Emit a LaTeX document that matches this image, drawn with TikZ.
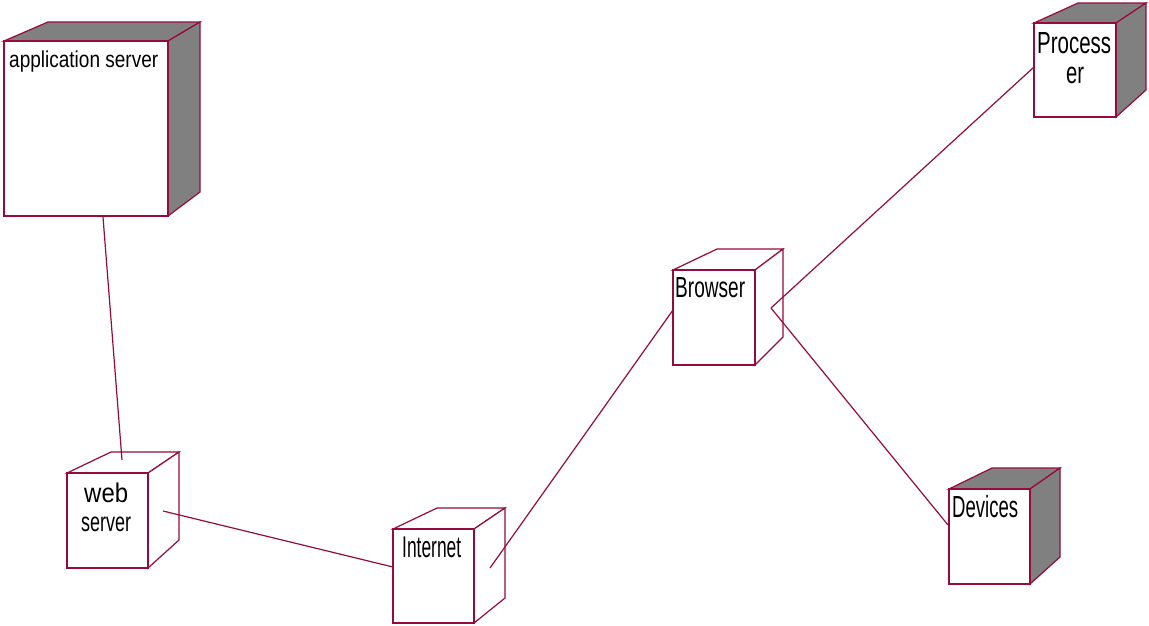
\documentclass[tikz,border=0pt]{standalone}
\usepackage{fontspec}
\setmainfont{Liberation Sans}
\definecolor{rose}{RGB}{150,10,60}
\definecolor{shade}{RGB}{128,128,128}
\tikzset{
  front/.style={draw=rose, line width=2pt, fill=white, inner sep=0pt},
  side/.style={draw=rose, line width=1.2pt, line join=miter},
  shaded/.style={side, fill=shade},
  plain/.style={side, fill=white},
  conn/.style={draw=rose, line width=1.2pt},
  lbl/.style={inner sep=0pt, anchor=base west, text=black},
}
\newcommand{\fitw}[2]{\resizebox{#1}{\height}{#2}}
\begin{document}
\begin{tikzpicture}[x=1pt,y=-1pt]
\useasboundingbox (0,0) rectangle (1149,625);
% application server
\filldraw[shaded] (4,41) -- (48,22) -- (200,22) -- (168,41) -- cycle;
\filldraw[shaded] (168,41) -- (200,22) -- (200,192) -- (168,216) -- cycle;
\node[front, minimum width=164pt, minimum height=175pt] (app) at (86,128.5) {};
\node[lbl, font=\fontsize{23}{26}\selectfont] (tapp) at (9,67) {\fitw{149pt}{application server}};
% web server
\filldraw[plain] (67,473) -- (111,452) -- (179,452) -- (148,473) -- cycle;
\filldraw[plain] (148,473) -- (179,452) -- (179,540) -- (148,568) -- cycle;
\node[front, minimum width=81pt, minimum height=95pt] (web) at (107.5,520.5) {};
\node[lbl, font=\fontsize{27}{30}\selectfont] (tweb1) at (84,502) {\fitw{44pt}{web}};
\node[lbl, font=\fontsize{27}{30}\selectfont] (tweb2) at (81,531) {\fitw{50pt}{server}};
% Internet
\filldraw[plain] (393,529) -- (437,508) -- (505,508) -- (474,529) -- cycle;
\filldraw[plain] (474,529) -- (505,508) -- (505,598) -- (474,623) -- cycle;
\node[front, minimum width=81pt, minimum height=94pt] (inet) at (433.5,576) {};
\node[lbl, font=\fontsize{30}{32}\selectfont] (tinet) at (402,557) {\fitw{59pt}{Internet}};
% Browser
\filldraw[plain] (673,270) -- (717,249) -- (783,249) -- (755,270) -- cycle;
\filldraw[plain] (755,270) -- (783,249) -- (783,337) -- (755,365) -- cycle;
\node[front, minimum width=82pt, minimum height=95pt] (brow) at (714,317.5) {};
\node[lbl, font=\fontsize{29}{32}\selectfont] (tbrow) at (675,297) {\fitw{70pt}{Browser}};
% Processer
\filldraw[shaded] (1034,23) -- (1078,3) -- (1146,3) -- (1116,23) -- cycle;
\filldraw[shaded] (1116,23) -- (1146,3) -- (1146,90) -- (1116,117) -- cycle;
\node[front, minimum width=82pt, minimum height=94pt] (proc) at (1075,70) {};
\node[lbl, font=\fontsize{30.5}{32}\selectfont] (tproc1) at (1037,53) {\fitw{74pt}{Process}};
\node[lbl, font=\fontsize{30.5}{32}\selectfont] (tproc2) at (1066,83) {\fitw{18pt}{er}};
% Devices
\filldraw[shaded] (949,489) -- (992,468) -- (1060,468) -- (1030,489) -- cycle;
\filldraw[shaded] (1030,489) -- (1060,468) -- (1060,557) -- (1030,584) -- cycle;
\node[front, minimum width=81pt, minimum height=95pt] (dev) at (989.5,536.5) {};
\node[lbl, font=\fontsize{30.5}{32}\selectfont] (tdev) at (952,517) {\fitw{66pt}{Devices}};
% connector ends
\coordinate (appS) at (103,217);
\coordinate (webN) at (122,460);
\coordinate (webE) at (163,511);
\coordinate (inetW) at (393,567);
\coordinate (inetE) at (490,568);
\coordinate (browW) at (673,310);
\coordinate (browE) at (771,308);
\coordinate (procW) at (1034,67);
\coordinate (devW) at (948,525);
% connectors
\draw[conn] (appS) -- (webN);
\draw[conn] (webE) -- (inetW);
\draw[conn] (inetE) -- (browW);
\draw[conn] (browE) -- (procW);
\draw[conn] (browE) -- (devW);
\end{tikzpicture}
\end{document}
